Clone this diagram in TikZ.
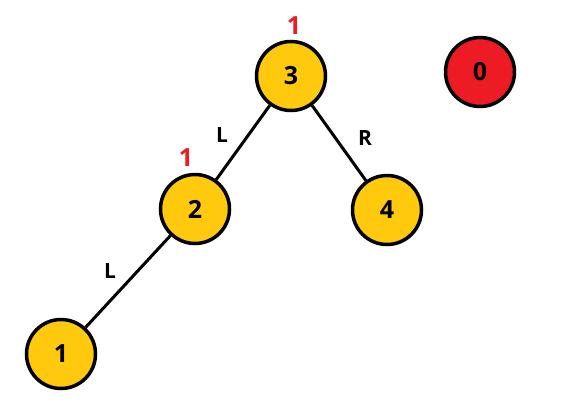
\documentclass[tikz,border=0pt]{standalone}
\usepackage{fontspec}
\setmainfont{Open Sans}
\definecolor{nodeyellow}{HTML}{FFC90E}
\definecolor{nodered}{HTML}{ED1C24}
\begin{document}
\begin{tikzpicture}[x=1pt,y=-1pt,
  treenode/.style={circle,draw=black,line width=3.5pt,fill=nodeyellow,minimum size=69pt,inner sep=0pt,font=\bfseries\fontsize{25}{25}\selectfont},
  rednode/.style={treenode,fill=nodered},
  edge/.style={line width=3pt},
  mark label/.style={text=nodered,font=\bfseries\fontsize{25}{25}\selectfont,inner sep=0pt},
  side label/.style={font=\bfseries\fontsize{21}{21}\selectfont,inner sep=0pt}]
\useasboundingbox (0,0) rectangle (581,407);
\node[treenode] (n3) at (291,76) {3};
\node[rednode] (n0) at (480,72) {0};
\node[treenode] (n2) at (195,209) {2};
\node[treenode] (n4) at (387,210) {4};
\node[treenode] (n1) at (61,354) {1};
\draw[edge] (n3) -- (n2);
\draw[edge] (n3) -- (n4);
\draw[edge] (n2) -- (n1);
\node[mark label] (m3) at (294,26) {1};
\node[mark label] (m2) at (186,158) {1};
\node[side label] (l1) at (222,135) {L};
\node[side label] (r1) at (365,138) {R};
\node[side label] (l2) at (110,271) {L};
\end{tikzpicture}
\end{document}
